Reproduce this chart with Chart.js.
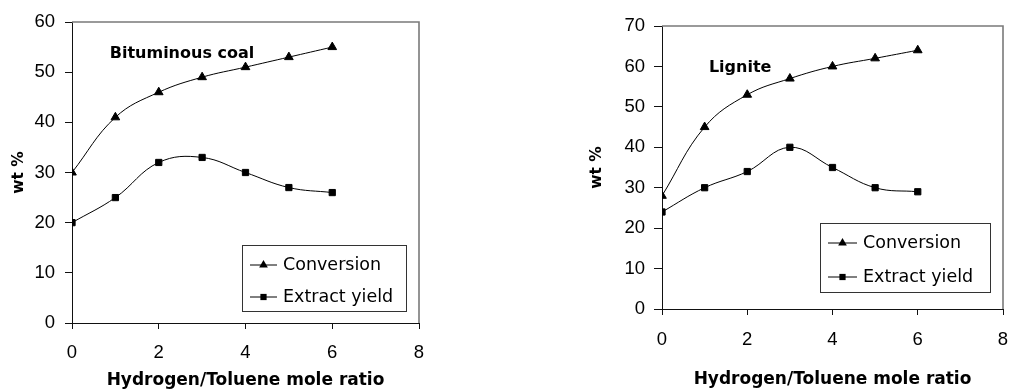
<!DOCTYPE html>
<html>
<head>
<meta charset="utf-8">
<script src="https://cdn.jsdelivr.net/npm/chart.js@4.4.0/dist/chart.umd.min.js"></script>
<style>
  html, body { margin: 0; padding: 0; background: #fff; }
  .box { position: absolute; top: 0; }
</style>
</head>
<body>
<div class="box" style="left:0"><canvas id="chartCoal" width="505" height="392"></canvas></div>
<div class="box" style="left:505px"><canvas id="chartLignite" width="506" height="392"></canvas></div>
<script>
// H2/toluene mole ratio
const ratios = [0, 1, 2, 3, 4, 5, 6]

// bituminous coal, wt %
const coalConversion = [30, 41, 46, 49, 51, 53, 55]
const coalExtract = [20, 25, 32, 33, 30, 27, 26]

// lignite, wt %
const ligniteConversion = [28, 45, 53, 57, 60, 62, 64]
const ligniteExtract = [24, 30, 34, 40, 35, 30, 29]

const xTicks = [0, 2, 4, 6, 8]

const toPoints = (ys) => ys.map((y, i) => ({ x: ratios[i], y: y }))

const tickFont = { family: '"Liberation Sans", Arial, sans-serif', size: 18.5 }
const titleFont = { family: '"DejaVu Sans"', size: 17, weight: 'bold' }

// grey frame on top / right of plot area, like excel
const framePlugin = {
    id: 'frame',
    beforeDatasetsDraw(chart) {
        const { ctx, chartArea: a } = chart
        ctx.save()
        ctx.strokeStyle = '#7a7a7a'
        ctx.lineWidth = 1.6
        ctx.beginPath()
        ctx.moveTo(a.left, a.top)
        ctx.lineTo(a.right, a.top)
        ctx.lineTo(a.right, a.bottom)
        ctx.stroke()
        ctx.restore()
    },
}

// sample name written inside the plot
const notePlugin = {
    id: 'note',
    afterDraw(chart, args, opts) {
        const { ctx, scales } = chart
        ctx.save()
        ctx.font = 'bold 16px "DejaVu Sans"'
        ctx.fillStyle = '#000'
        ctx.textBaseline = 'middle'
        ctx.fillText(opts.text, scales.x.getPixelForValue(opts.x), scales.y.getPixelForValue(opts.y))
        ctx.restore()
    },
}

// boxed legend sitting inside the plot
const boxLegendPlugin = {
    id: 'boxLegend',
    afterDraw(chart, args, opts) {
        const { ctx } = chart
        ctx.save()
        ctx.fillStyle = '#fff'
        ctx.fillRect(opts.left, opts.top, opts.width, opts.height)
        ctx.strokeStyle = '#333'
        ctx.lineWidth = 1
        ctx.strokeRect(opts.left + 0.5, opts.top + 0.5, opts.width, opts.height)
        ctx.font = '17.5px "DejaVu Sans"'
        ctx.textBaseline = 'middle'
        chart.data.datasets.forEach((ds, i) => {
            const y = opts.rows[i]
            ctx.strokeStyle = '#000'
            ctx.lineWidth = 1
            ctx.beginPath()
            ctx.moveTo(opts.lineFrom, y)
            ctx.lineTo(opts.lineTo, y)
            ctx.stroke()
            ctx.fillStyle = '#000'
            Chart.helpers.drawPoint(ctx, { pointStyle: ds.pointStyle, radius: ds.pointRadius, borderWidth: 0 },
                (opts.lineFrom + opts.lineTo) / 2, y)
            ctx.fillStyle = '#000'
            ctx.fillText(ds.label, opts.textX, y)
        })
        ctx.restore()
    },
}

function makeChart(id, conv, extr, yMax, geo) {
    return new Chart(document.getElementById(id), {
        type: 'line',
        data: {
            datasets: [
                {
                    label: 'Conversion',
                    data: toPoints(conv),
                    borderColor: '#000',
                    backgroundColor: '#000',
                    borderWidth: 1,
                    pointStyle: 'triangle',
                    pointRadius: 5,
                    tension: 0.4,
                },
                {
                    label: 'Extract yield',
                    data: toPoints(extr),
                    borderColor: '#000',
                    backgroundColor: '#000',
                    borderWidth: 1,
                    pointStyle: 'rect',
                    pointRadius: 4.4,
                    tension: 0.4,
                },
            ],
        },
        options: {
            responsive: false,
            animation: false,
            devicePixelRatio: 1,
            layout: { padding: geo.padding },
            plugins: {
                legend: { display: false },
                tooltip: { enabled: false },
                note: geo.note,
                boxLegend: geo.legend,
            },
            scales: {
                x: {
                    type: 'linear',
                    min: 0,
                    max: 8,
                    afterBuildTicks: (s) => { s.ticks = xTicks.map((v) => ({ value: v })) },
                    afterFit: (s) => {
                        s.height = geo.xHeight
                        s.paddingLeft = 0
                        s.paddingRight = 0
                    },
                    border: { display: true, color: '#111', width: 1 },
                    grid: { drawOnChartArea: false, tickLength: 6, color: '#111' },
                    ticks: { font: tickFont, color: '#000', padding: geo.xPad, maxRotation: 0 },
                    title: { display: true, text: 'Hydrogen/Toluene mole ratio', font: titleFont, color: '#000', padding: { top: 0, bottom: geo.xTitlePad } },
                },
                y: {
                    min: 0,
                    max: yMax,
                    afterFit: (s) => { s.width = geo.yWidth },
                    border: { display: true, color: '#111', width: 1 },
                    grid: { drawOnChartArea: false, tickLength: geo.yTick, color: '#111' },
                    ticks: { stepSize: 10, font: tickFont, color: '#000', padding: geo.yPad },
                    title: { display: true, text: 'wt %', font: { family: '"DejaVu Sans"', size: 15.5, weight: 'bold' }, color: '#000', padding: { top: geo.yTitlePad, bottom: 0 } },
                },
            },
        },
        plugins: [framePlugin, notePlugin, boxLegendPlugin],
    })
}

makeChart('chartCoal', coalConversion, coalExtract, 60, {
    padding: { left: 0, top: 22, right: 86, bottom: 0 },
    xHeight: 69, xPad: 13, xTitlePad: 1,
    yWidth: 72, yTick: 7, yPad: 10, yTitlePad: 10,
    note: { text: 'Bituminous coal', x: 0.87, y: 53.6 },
    legend: { left: 242, top: 245, width: 164, height: 66, lineFrom: 250, lineTo: 277, textX: 283, rows: [265, 297] },
})

makeChart('chartLignite', ligniteConversion, ligniteExtract, 70, {
    padding: { left: 70, top: 26, right: 8, bottom: 0 },
    xHeight: 83, xPad: 14, xTitlePad: 2,
    yWidth: 87, yTick: 8, yPad: 9, yTitlePad: 13,
    note: { text: 'Lignite', x: 1.1, y: 59.6 },
    legend: { left: 315, top: 223, width: 170, height: 69, lineFrom: 323, lineTo: 352, textX: 358, rows: [243, 277] },
})
</script>
</body>
</html>
